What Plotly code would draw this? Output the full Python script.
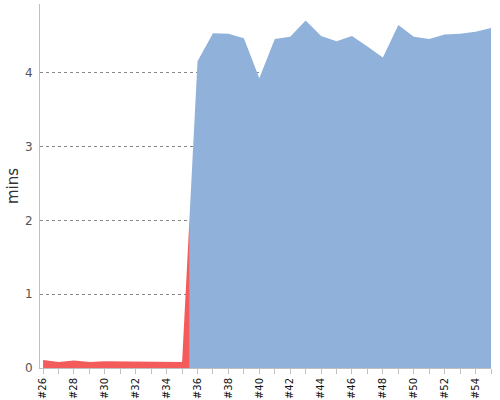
import plotly.graph_objects as go

builds = [f"#{n}" for n in range(26, 56)]
build_nums = list(range(26, 56))
old_mins = [0.11, 0.08, 0.10, 0.08, 0.09, 0.09, 0.09, 0.08, 0.09, 0.08]
new_mins = [4.16, 4.54, 4.53, 4.47, 3.93, 4.46, 4.49, 4.71, 4.50, 4.43,
            4.50, 4.36, 4.21, 4.65, 4.49, 4.46, 4.52, 4.53, 4.56, 4.61]

n_old = len(old_mins)
x_old = build_nums[:n_old]
x_new = build_nums[n_old:]
# zone boundary halfway between last old and first new build
x_split = (x_old[-1] + x_new[0]) / 2
y_split = (old_mins[-1] + new_mins[0]) / 2

fig = go.Figure()
fig.add_trace(go.Scatter(
    x=x_old + [x_split], y=old_mins + [y_split],
    fill="tozeroy", mode="lines", line=dict(width=0, color="#f45b5b"),
    fillcolor="#f45b5b", hoverinfo="skip", showlegend=False))
fig.add_trace(go.Scatter(
    x=[x_split] + x_new, y=[y_split] + new_mins,
    fill="tozeroy", mode="lines", line=dict(width=0, color="#8fb1da"),
    fillcolor="#8fb1da", hoverinfo="skip", showlegend=False))

fig.update_layout(
    width=500, height=400,
    margin=dict(l=40, r=9, t=4, b=32, autoexpand=False),
    plot_bgcolor="white", paper_bgcolor="white",
    font=dict(family="DejaVu Sans", color="#444"),
    xaxis=dict(
        range=[25.8, 55], tickmode="array",
        tickvals=build_nums[::2], ticktext=builds[::2],
        tickangle=-90, tickfont=dict(size=10, color="#111"),
        showgrid=False, zeroline=False, automargin=False,
        showline=True, linecolor="#c0c0c0", linewidth=1,
        ticks="outside", ticklen=5, tickcolor="#c0c0c0",
        minor=dict(tickvals=build_nums, ticks="outside", ticklen=5, tickcolor="#c0c0c0"),
    ),
    yaxis=dict(
        range=[0, 4.935], dtick=1, tick0=0, automargin=False,
        title=dict(text="mins", font=dict(size=15, color="#333"), standoff=2),
        tickfont=dict(size=12, color="#555"), ticklabelstandoff=4,
        showgrid=True, gridcolor="#888", griddash="dot", gridwidth=1,
        zeroline=False, showline=True, linecolor="#c0c0c0", linewidth=1,
        ticks="", layer="above traces",
    ),
)
fig.write_html("out.html", config={"displayModeBar": False},
               post_script="document.body.style.margin='0';document.body.style.padding='0';")
